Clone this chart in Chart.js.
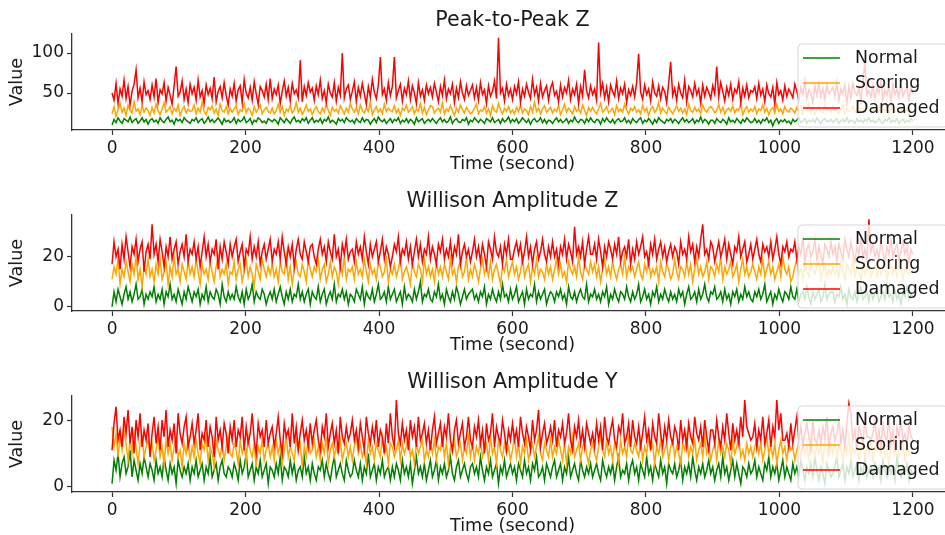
<!DOCTYPE html>
<html>
<head>
<meta charset="utf-8">
<script src="https://cdn.jsdelivr.net/npm/chart.js@4/dist/chart.umd.min.js"></script>
<style>
  html, body { margin: 0; padding: 0; background: #fff; width: 945px; height: 535px; overflow: hidden; }
  .panel { position: absolute; left: 0; }
</style>
</head>
<body>
<canvas class="panel" id="p2p" width="960" height="180" style="top:0px"></canvas>
<canvas class="panel" id="wampZ" width="960" height="180" style="top:181px"></canvas>
<canvas class="panel" id="wampY" width="960" height="180" style="top:362px"></canvas>
<script>
'use strict';

// one sample every 3 seconds, 0..1200
var step = 3;
var seconds = [];
for (var i = 0; i <= 400; i++) { seconds.push(i * step); }

var seriesNames = ['Normal', 'Scoring', 'Damaged'];
var seriesColors = ['#008000', '#ffa500', '#ff0000'];
var xTicks = [0, 200, 400, 600, 800, 1000, 1200];

// Peak-to-Peak Z
var p2pNormal = [
  10,17,13,19,15,12,18,16,14,20,13,16,18,12,15,19,14,17,11,16,
  18,14,16,12,19,15,13,17,20,14,16,11,18,15,17,13,19,16,14,12,
  17,15,19,13,16,18,12,15,20,14,17,13,16,19,15,11,18,14,16,13,
  15,19,12,17,14,16,20,13,15,18,11,16,14,19,17,13,15,12,18,16,
  14,17,15,11,19,16,13,18,15,12,17,20,14,16,13,18,15,19,12,16,
  19,13,16,14,18,12,17,15,20,13,16,14,11,18,15,17,13,19,16,14,
  16,12,18,15,13,19,14,17,16,11,15,18,13,20,16,14,17,12,15,18,
  13,17,15,19,12,16,14,18,13,17,15,11,19,14,16,18,12,15,17,14,
  18,15,12,16,19,14,17,13,15,20,12,16,18,14,13,17,15,19,11,16,
  14,19,16,13,17,15,12,18,16,14,19,13,15,17,12,18,14,16,20,13,
  17,14,18,12,15,19,16,13,17,11,16,18,14,15,19,13,17,12,16,15,
  12,16,19,14,17,13,15,18,12,16,14,20,15,13,17,16,12,18,14,19,
  15,13,17,16,11,18,14,19,15,13,17,12,16,18,14,15,19,13,16,12,
  18,15,13,17,19,12,16,14,18,15,11,17,13,19,16,14,12,17,15,18,
  13,17,15,12,16,19,14,17,13,15,18,12,16,14,20,13,17,15,11,16,
  16,12,18,15,13,17,15,11,19,14,16,13,18,15,12,17,14,19,16,13,
  14,18,13,16,12,17,15,19,13,16,9,15,18,12,16,14,17,13,15,11,
  17,14,16,19,13,15,18,12,16,14,17,13,19,15,12,16,18,14,15,17,
  13,16,18,12,15,17,14,19,13,16,15,12,18,14,16,13,17,15,19,14,
  16,13,15,18,14,12,17,15,19,13,16,14,18,12,15,17,13,16,14,18,
  15];
var p2pScoring = [
  24,33,21,29,37,26,31,22,35,28,25,39,27,30,23,34,26,31,28,22,
  32,25,36,28,23,30,38,26,29,33,24,31,27,35,22,29,33,25,30,27,
  28,35,24,31,26,39,27,23,32,29,34,25,30,22,36,28,26,33,24,31,
  26,30,34,23,29,27,37,25,31,28,22,33,26,30,35,24,29,32,27,25,
  31,24,28,36,26,33,22,30,27,34,25,29,38,26,31,23,28,35,27,30,
  23,29,33,27,24,31,26,36,28,22,32,27,30,25,34,29,24,31,26,37,
  30,26,32,24,35,28,25,31,27,39,23,29,33,26,30,24,36,27,31,28,
  27,34,25,30,22,31,28,35,26,29,33,24,30,27,37,25,32,23,29,34,
  33,25,29,31,26,38,24,30,27,34,28,22,31,26,35,29,25,32,28,24,
  26,31,36,24,29,27,33,25,30,22,34,28,26,37,29,24,31,27,33,25,
  29,24,32,27,35,25,30,28,23,33,26,39,27,31,24,30,34,26,29,32,
  25,30,27,34,23,29,36,26,31,28,24,33,27,30,25,35,28,22,32,27,
  32,27,24,30,37,26,29,33,25,28,31,23,34,27,30,26,36,29,24,31,
  28,33,26,29,24,35,27,31,22,30,33,26,29,38,25,31,27,24,32,28,
  24,29,34,27,31,25,30,23,36,28,26,32,27,30,24,35,29,26,31,33,
  30,25,28,36,26,32,24,29,31,27,34,25,30,28,37,23,29,33,26,30,
  27,33,24,30,28,35,26,31,23,29,32,25,36,27,30,24,33,28,26,31,
  29,25,32,27,34,24,30,28,37,26,31,23,29,33,27,25,35,28,30,26,
  33,27,30,24,29,36,25,31,27,28,34,26,30,23,32,28,25,35,29,27,
  26,31,28,34,25,30,27,33,24,29,36,27,31,25,28,33,26,30,24,29,
  28];
var p2pDamaged = [
  50,41,62,37,55,46,66,43,58,35,52,61,79,44,56,39,64,48,53,42,
  60,45,68,38,54,49,63,40,57,47,36,59,83,46,51,65,42,55,38,61,
  49,57,41,66,45,53,37,60,48,56,43,70,39,52,58,44,63,47,35,55,
  46,62,40,54,59,38,67,50,44,57,41,64,49,36,58,53,45,61,42,68,
  43,55,48,60,37,52,65,46,57,40,62,49,54,44,91,39,58,47,63,51,
  56,41,59,48,66,43,53,38,61,50,45,63,40,57,47,100,44,55,60,42,
  52,64,39,57,46,62,49,36,58,45,67,51,43,60,95,48,55,41,63,47,
  58,95,44,53,61,40,56,48,65,42,59,50,37,63,46,54,41,60,49,57,
  45,62,51,39,58,47,66,43,55,49,61,38,56,44,64,50,42,59,47,53,
  60,44,57,41,63,48,54,37,59,46,52,65,43,119,50,56,40,61,47,55,
  42,58,49,64,38,55,46,61,51,43,67,48,57,40,62,45,53,59,41,56,
  63,47,52,39,60,45,57,50,66,42,55,48,61,37,58,46,79,53,44,59,
  48,55,41,113,50,62,44,57,39,60,52,46,65,43,56,49,61,38,54,47,
  58,45,63,99,51,42,60,48,55,40,64,50,46,59,43,57,52,38,62,89,
  47,56,41,61,50,44,66,39,58,53,45,62,48,55,37,60,46,57,51,43,
  59,49,83,45,63,52,40,57,47,61,42,55,50,64,38,56,46,60,44,53,
  51,58,43,62,47,55,39,60,49,45,57,36,63,48,53,41,59,46,55,50,
  44,61,52,40,57,48,65,43,54,50,38,59,47,62,45,56,42,60,49,53,
  57,46,63,41,55,49,60,38,58,44,62,51,47,56,40,64,89,48,53,45,
  60,43,56,50,65,42,54,47,59,39,61,48,55,44,63,46,52,57,41,58,
  49];

// Willison Amplitude Z
var wampZNormal = [
  0,6,2,7,4,1,5,8,3,6,2,5,9,3,4,7,1,5,3,6,
  4,8,2,5,3,7,1,6,4,9,3,5,2,7,4,1,6,3,8,5,
  2,6,4,7,1,5,3,8,2,6,4,3,7,5,1,9,4,2,6,3,
  5,3,8,4,2,6,1,7,3,5,9,2,6,4,3,7,5,1,4,6,
  3,7,2,5,8,4,1,6,3,7,2,5,4,9,3,6,2,5,7,1,
  6,4,3,8,2,5,7,1,4,6,3,9,2,5,4,7,3,6,1,5,
  4,2,7,5,3,8,1,6,4,3,7,2,5,9,3,4,6,2,8,3,
  5,7,2,4,6,1,8,3,5,4,2,7,3,6,10,2,5,4,7,3,
  2,6,4,9,3,5,1,7,4,2,6,3,8,5,1,4,7,3,5,6,
  7,3,5,2,6,4,8,1,5,3,7,4,2,6,3,9,4,5,2,7,
  3,5,8,2,4,6,1,7,3,5,4,9,2,6,3,5,7,1,4,6,
  5,2,6,4,7,3,5,1,8,4,3,6,2,5,7,4,3,9,2,5,
  4,7,3,5,2,6,4,8,1,5,3,7,4,2,6,5,3,8,4,2,
  6,3,5,9,2,4,7,3,5,1,6,4,8,2,5,3,7,4,2,6,
  3,5,2,7,4,6,1,5,8,3,4,6,2,7,3,5,9,4,2,6,
  5,8,3,4,6,2,7,3,5,1,6,4,7,2,5,3,8,4,6,3,
  2,6,4,7,3,5,9,2,4,6,1,5,3,7,4,2,6,5,3,8,
  4,3,7,2,5,6,3,8,4,1,6,3,5,7,2,4,9,3,5,6,
  6,2,5,4,8,3,5,1,7,4,3,6,2,5,8,3,4,6,2,7,
  3,5,7,2,4,6,3,9,4,5,2,7,3,5,1,6,4,8,3,5,
  4];
var wampZScoring = [
  11,16,13,19,9,15,12,18,14,10,17,13,20,11,15,8,16,13,19,12,
  15,10,17,13,19,11,14,18,9,16,12,20,13,15,10,17,14,11,18,13,
  16,12,19,14,9,17,13,15,11,18,14,10,16,20,12,15,13,17,9,14,
  13,18,11,15,17,10,14,19,12,16,13,8,17,14,11,19,15,12,16,13,
  17,12,15,10,18,14,13,20,11,16,9,15,18,13,12,17,14,10,19,15,
  12,16,14,19,11,15,17,10,13,18,12,16,14,9,17,13,20,11,15,14,
  16,11,18,13,15,12,19,14,10,17,13,15,11,18,16,12,14,19,10,15,
  13,17,12,15,20,11,14,16,13,9,18,14,12,17,15,10,19,13,16,12,
  15,10,18,13,16,12,17,14,11,19,13,15,10,16,18,12,14,20,11,15,
  12,17,14,10,15,19,13,16,12,18,11,15,17,13,9,16,14,19,12,15,
  18,13,16,11,14,20,12,15,17,10,16,13,19,12,15,14,11,17,13,16,
  11,15,19,13,17,12,14,10,18,15,13,16,12,20,14,11,17,15,13,18,
  14,17,12,16,10,15,19,13,16,12,18,14,11,15,17,13,20,12,16,14,
  16,12,15,18,13,11,17,14,19,12,15,13,16,10,18,14,12,17,15,11,
  13,19,14,11,16,15,12,18,13,17,10,15,19,13,16,12,14,18,11,16,
  15,12,17,14,20,11,16,13,15,18,12,14,17,10,15,19,13,16,12,14,
  17,14,11,16,13,19,12,15,18,13,16,11,14,17,12,20,15,13,16,10,
  12,16,19,13,15,11,17,14,12,18,15,13,16,19,11,14,17,12,15,13,
  16,13,15,12,18,14,11,17,15,13,19,12,16,14,10,17,13,15,18,12,
  14,17,12,16,13,15,19,11,14,17,13,16,12,18,15,11,16,14,13,17,
  14];
var wampZDamaged = [
  17,26,20,23,15,25,19,28,22,16,24,21,27,18,23,26,14,22,25,19,
  33,21,25,18,27,22,16,24,20,28,19,23,26,17,22,25,20,29,18,23,
  21,26,19,24,16,22,28,20,25,18,23,21,27,15,24,19,26,22,17,25,
  20,24,27,18,22,25,16,23,21,28,19,24,20,26,17,22,25,19,23,27,
  18,23,21,26,19,28,22,17,24,20,25,16,23,27,21,19,26,22,18,24,
  25,20,17,23,27,21,24,18,26,22,19,29,20,23,16,25,21,27,19,22,
  23,18,26,21,24,19,28,22,17,25,20,23,26,18,22,27,19,24,21,16,
  20,25,22,28,18,23,21,26,19,24,17,22,27,20,25,18,23,21,28,19,
  24,21,17,25,22,27,19,23,20,26,18,24,21,29,17,22,25,20,23,18,
  22,27,20,24,18,25,21,16,26,23,19,28,22,20,24,17,25,21,27,19,
  19,23,26,21,25,18,22,28,20,24,17,23,26,19,22,27,21,18,24,20,
  26,20,23,17,24,21,27,19,25,22,18,32,21,24,20,26,17,23,28,21,
  21,25,19,27,22,16,24,20,26,23,19,25,21,28,18,22,24,20,27,17,
  23,19,26,21,24,28,20,22,17,25,21,27,19,23,26,20,24,18,22,25,
  20,24,22,17,26,21,23,19,28,22,25,18,24,20,27,33,21,23,19,26,
  24,18,22,26,20,23,27,19,25,21,17,24,22,28,20,23,26,18,21,25,
  19,23,27,21,18,25,22,24,20,26,19,23,28,21,17,24,22,26,20,23,
  22,26,19,24,21,28,18,23,25,20,22,27,19,24,21,17,25,23,20,26,
  21,24,18,25,22,19,27,23,20,26,22,18,24,21,28,20,23,19,35,22,
  25,20,23,19,26,22,18,24,21,27,20,23,25,19,22,26,21,24,18,23,
  21];

// Willison Amplitude Y
var wampYNormal = [
  1,8,5,10,3,7,9,4,6,11,3,8,5,2,7,4,9,6,3,7,
  5,2,8,4,6,3,9,5,2,7,4,6,1,8,5,3,6,4,7,2,
  6,4,8,3,5,7,2,6,4,9,3,5,7,2,6,8,4,3,6,5,
  3,7,5,2,8,4,6,10,3,5,7,2,6,4,8,3,5,7,1,6,
  5,3,7,4,9,2,6,5,3,8,4,7,2,5,6,3,9,4,6,2,
  7,4,2,6,5,8,3,7,4,2,6,9,3,5,7,4,2,8,5,3,
  4,8,5,3,7,2,6,4,10,3,5,7,2,6,4,8,3,5,6,2,
  6,3,7,5,2,8,4,6,3,7,1,5,9,4,6,3,7,2,5,8,
  3,5,8,2,6,4,7,3,5,9,4,2,6,8,3,5,7,4,2,6,
  7,4,6,3,9,5,2,6,4,8,3,5,7,1,6,4,8,3,5,7,
  4,6,2,7,5,3,8,4,6,2,7,5,9,3,4,6,2,7,5,3,
  6,8,3,5,7,2,6,4,9,3,5,7,4,2,8,5,3,6,4,7,
  3,5,7,4,2,8,5,3,6,4,7,2,6,9,3,5,4,7,2,6,
  8,4,6,2,7,5,3,9,4,6,2,7,5,3,8,4,6,1,7,5,
  4,7,3,5,8,2,6,4,7,3,9,5,2,6,4,7,3,5,8,4,
  6,2,5,7,3,9,4,6,2,5,8,3,7,4,1,6,5,3,7,4,
  5,8,3,6,4,2,7,5,9,3,6,4,7,2,5,8,3,6,4,2,
  7,4,6,3,8,5,2,6,4,7,3,9,5,2,6,4,1,7,5,3,
  4,6,9,3,5,7,2,6,4,8,3,5,7,2,6,4,8,3,5,6,
  3,7,4,6,2,8,5,3,7,4,6,2,9,5,3,6,4,7,2,5,
  4];
var wampYScoring = [
  18,12,16,9,15,11,17,13,8,14,10,16,12,7,13,15,9,12,14,10,
  13,8,11,15,9,12,7,14,10,13,8,12,15,9,11,6,13,10,14,8,
  12,9,14,10,7,13,11,15,8,12,10,6,14,11,9,13,8,12,15,10,
  9,13,11,7,14,10,12,8,15,11,9,13,6,12,10,14,8,11,13,9,
  12,8,14,10,13,7,11,15,9,12,10,8,14,11,13,6,12,9,15,10,
  11,14,9,12,8,13,10,15,7,11,13,9,12,10,14,8,11,13,9,12,
  8,12,15,10,13,9,11,7,14,10,12,8,13,11,9,15,10,12,7,13,
  12,9,11,14,8,13,10,12,15,9,11,7,13,10,12,14,8,11,9,13,
  10,14,8,12,11,15,9,13,7,12,10,14,9,11,13,8,12,10,15,9,
  13,8,12,10,14,9,11,13,8,15,10,12,7,14,11,9,13,10,12,8,
  11,15,9,13,7,12,10,14,8,11,13,9,12,15,10,8,13,11,9,14,
  9,12,10,14,11,8,13,7,12,10,15,9,11,13,8,12,14,10,7,11,
  13,10,8,12,15,11,9,14,10,12,8,13,11,7,14,10,12,9,15,11,
  10,13,11,9,14,8,12,10,15,11,13,7,12,10,14,9,11,13,8,12,
  14,9,12,10,7,13,11,15,9,12,10,14,8,11,13,9,15,10,12,8,
  11,13,8,14,10,12,9,13,11,7,14,10,12,15,9,11,8,13,10,12,
  9,12,14,10,13,8,11,15,10,12,9,13,7,11,14,10,12,8,13,11,
  12,8,11,13,9,14,10,12,8,15,11,9,13,10,12,7,14,11,9,13,
  10,14,9,12,11,8,13,10,15,9,12,10,14,8,11,13,9,12,10,14,
  8,12,11,14,10,13,9,11,7,12,15,10,13,9,11,14,8,12,10,11,
  10];
var wampYDamaged = [
  11,19,24,14,17,12,21,16,23,13,18,10,20,15,22,12,17,14,19,9,
  16,21,13,18,11,20,15,23,12,17,14,19,10,22,16,13,18,21,12,15,
  19,13,17,22,11,16,14,20,12,18,15,9,21,14,17,12,19,16,10,18,
  14,20,12,17,15,21,11,18,13,16,22,14,10,19,15,17,12,20,13,16,
  18,12,16,21,14,10,19,15,17,12,22,13,18,11,16,20,14,17,12,19,
  13,17,20,14,11,18,15,22,12,16,19,13,17,10,21,15,13,18,14,16,
  20,14,17,12,19,15,11,21,16,13,18,14,20,12,17,15,10,19,13,22,
  15,12,26,16,13,19,14,17,11,20,15,18,12,21,14,16,19,13,17,11,
  17,21,13,16,19,12,18,15,22,14,11,17,20,13,16,19,12,15,21,14,
  12,18,15,20,13,17,10,19,14,16,22,12,18,15,13,20,16,11,17,14,
  19,14,17,12,21,16,13,18,15,11,20,14,17,23,12,16,19,13,15,18,
  14,20,12,17,15,19,13,16,22,14,11,18,15,20,13,17,12,19,16,13,
  16,12,19,14,18,11,21,15,13,17,20,14,12,18,16,22,13,15,19,12,
  20,15,13,18,12,16,21,14,17,11,19,15,13,22,16,12,18,14,20,15,
  13,18,16,11,20,14,17,12,19,15,13,21,16,14,18,12,20,15,11,17,
  17,13,20,15,12,18,14,22,16,11,19,14,17,13,21,15,26,18,16,14,
  15,19,12,17,14,21,13,16,20,12,18,15,26,17,22,14,14,16,12,19,
  13,17,21,14,18,12,16,19,15,11,20,14,13,17,13,18,15,21,12,16,
  18,14,16,20,13,17,12,19,25,22,14,17,11,18,16,13,20,15,15,14,
  16,20,13,17,12,19,15,14,21,13,17,11,18,15,20,14,16,12,19,15,
  14];

var FONT = 'DejaVu Sans';
var INK = '#1a1a1a';

// titles, axis labels and a translucent legend box drawn over the lines
var panelText = {
  id: 'panelText',
  afterDatasetsDraw: function (chart, args, opts) {
    var ctx = chart.ctx;
    var area = chart.chartArea;
    var cx = (area.left + area.right) / 2;
    ctx.save();
    ctx.fillStyle = INK;
    ctx.textAlign = 'center';
    ctx.textBaseline = 'middle';
    ctx.font = '20.6px "' + FONT + '"';
    ctx.fillText(opts.title, cx, 21);
    ctx.font = '17.6px "' + FONT + '"';
    ctx.fillText('Time (second)', cx, 164);
    ctx.save();
    ctx.translate(17, (area.top + area.bottom) / 2);
    ctx.rotate(-Math.PI / 2);
    ctx.fillText('Value', 0, 0);
    ctx.restore();

    // legend
    var bx = 798, by = 44, bw = 150, bh = 83;
    ctx.beginPath();
    ctx.roundRect(bx, by, bw, bh, 4);
    ctx.fillStyle = 'rgba(255,255,255,0.8)';
    ctx.fill();
    ctx.strokeStyle = 'rgba(204,204,204,0.8)';
    ctx.lineWidth = 1;
    ctx.stroke();
    ctx.textAlign = 'left';
    ctx.font = '17.4px "' + FONT + '"';
    for (var k = 0; k < seriesNames.length; k++) {
      var ry = 58 + k * 25;
      ctx.beginPath();
      ctx.moveTo(803, ry);
      ctx.lineTo(840, ry);
      ctx.strokeStyle = seriesColors[k];
      ctx.lineWidth = 1.5;
      ctx.stroke();
      ctx.fillStyle = INK;
      ctx.fillText(seriesNames[k], 855, ry);
    }
    ctx.restore();
  }
};

function makePanel(id, title, lists, yMin, yMax, yTicks) {
  var datasets = lists.map(function (list, k) {
    return {
      label: seriesNames[k],
      data: list.map(function (v, j) { return { x: seconds[j], y: v }; }),
      borderColor: seriesColors[k],
      borderWidth: 1.5,
      pointRadius: 0,
      tension: 0,
      order: 3 - k
    };
  });

  new Chart(document.getElementById(id), {
    type: 'line',
    data: { datasets: datasets },
    options: {
      responsive: false,
      animation: false,
      devicePixelRatio: 1,
      layout: { padding: { top: 34, right: 7, left: 0, bottom: 0 } },
      plugins: {
        legend: { display: false },
        tooltip: { enabled: false },
        panelText: { title: title }
      },
      scales: {
        x: {
          type: 'linear',
          min: -60,
          max: 1260,
          afterBuildTicks: function (s) { s.ticks = xTicks.map(function (v) { return { value: v }; }); },
          afterFit: function (s) { s.height = 50; },
          ticks: {
            color: INK, font: { family: FONT, size: 17 }, padding: 3,
            maxRotation: 0, autoSkip: false,
            callback: function (v) { return String(v); }
          },
          grid: { drawOnChartArea: false, drawTicks: true, tickLength: 5, color: '#333', tickWidth: 1.2 },
          border: { display: true, color: '#333', width: 1.3 }
        },
        y: {
          min: yMin,
          max: yMax,
          afterBuildTicks: function (s) { s.ticks = yTicks.map(function (v) { return { value: v }; }); },
          afterFit: function (s) { s.width = 72; },
          ticks: {
            color: INK, font: { family: FONT, size: 17 }, padding: 3,
            callback: function (v) { return String(v); }
          },
          grid: { drawOnChartArea: false, drawTicks: true, tickLength: 5, color: '#333', tickWidth: 1.2 },
          border: { display: true, color: '#333', width: 1.3 }
        }
      }
    },
    plugins: [panelText]
  });
}

makePanel('p2p', 'Peak-to-Peak Z', [p2pNormal, p2pScoring, p2pDamaged], 3.75, 123.75, [50, 100]);
makePanel('wampZ', 'Willison Amplitude Z', [wampZNormal, wampZScoring, wampZDamaged], -1.7, 36.7, [0, 20]);
makePanel('wampY', 'Willison Amplitude Y', [wampYNormal, wampYScoring, wampYDamaged], -1.5, 27.2, [0, 20]);
</script>
</body>
</html>
